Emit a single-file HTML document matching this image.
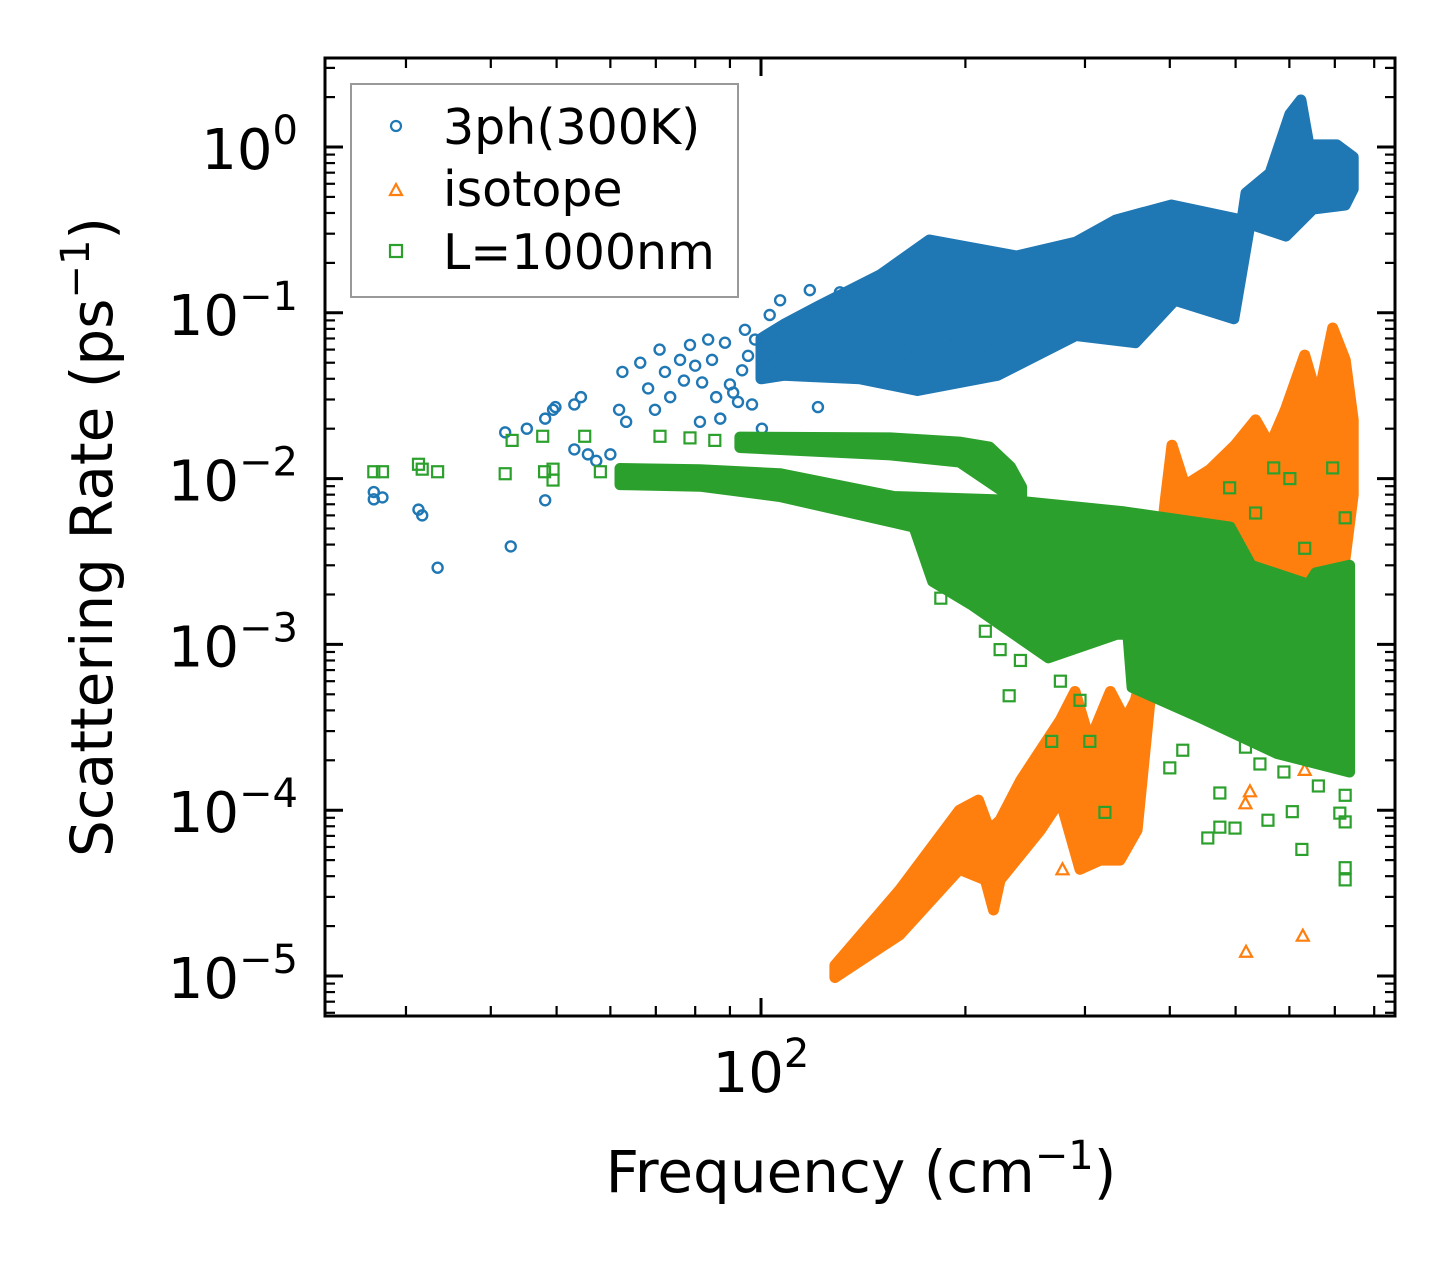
<!DOCTYPE html>
<html><head><meta charset="utf-8">
<style>
html,body{margin:0;padding:0;background:#fff;}
svg{display:block;font-family:"DejaVu Sans","Liberation Sans",sans-serif;}
</style></head>
<body>
<svg id="chart" width="1455" height="1265" viewBox="0 0 1455 1265" xmlns="http://www.w3.org/2000/svg">
  <rect x="0" y="0" width="1455" height="1265" fill="#fff"/>
  <defs><clipPath id="plotclip"><rect x="325" y="58" width="1070" height="958"/></clipPath></defs>
  <g id="marks" clip-path="url(#plotclip)"></g>
  <g id="axes"></g>
  <text x="112" y="537" font-size="58" text-anchor="middle" transform="rotate(-90 112 537)">Scattering Rate (ps<tspan baseline-shift="super" font-size="40">−1</tspan>)</text>
  <text x="861" y="1192" font-size="58" text-anchor="middle">Frequency (cm<tspan baseline-shift="super" font-size="40">−1</tspan>)</text>
  <g id="legend">
    <rect x="351" y="84" width="387" height="213" fill="#fff" fill-opacity="0.8" stroke="#999" stroke-width="2"/>
    <g>
      <circle cx="396" cy="126" r="5" fill="none" stroke="#1f77b4" stroke-width="2.2"/>
      <text x="443" y="144" font-size="49">3ph(300K)</text>
    </g>
    <g>
      <polygon points="390,195 402,195 396,184" fill="none" stroke="#ff7f0e" stroke-width="2.2"/>
      <text x="443" y="206" font-size="49">isotope</text>
    </g>
    <g>
      <rect x="390" y="245" width="12" height="12" fill="none" stroke="#2ca02c" stroke-width="2.2"/>
      <text x="443" y="269" font-size="49">L=1000nm</text>
    </g>
  </g>
</svg>
<script>
// ---- data (frequency in cm^-1, rate in ps^-1) ----
const blueBandTopF = [100,108,121.7,150,177,238,291,333,402,511,518,562,601,624,641,705,745];
const blueBandTopV = [0.07,0.085,0.11,0.17,0.275,0.22,0.267,0.363,0.447,0.363,0.528,0.697,1.58,1.92,1.03,1.03,0.87];
const blueBandBotF = [100,108,140,170,223,291,356,407,497,525,593,650,725,745];
const blueBandBotV = [0.04,0.042,0.04,0.034,0.042,0.073,0.066,0.119,0.092,0.343,0.29,0.423,0.447,0.558];
const blueF = [26.9,26.9,27.7,31.3,31.7,33.4,42.8,42,45.2,48.1,48.1,49.4,49.8,53.1,54.3,53.1,55.6,57.2,60,61.8,62.5,63.3,66.4,68.2,69.8,70.9,72.2,73.5,76,77,78.6,80,81.3,81.9,83.6,84.7,85.9,87.1,88.5,90,91,92.5,93.8,94.7,95.7,97,98,100.3,103,105,106.7,110.3,114,118,121.3,126.4,130.7,137.6,144.7,149.7,163,187,214,241,258,316,325];
const blueV = [0.0083,0.0075,0.0077,0.0065,0.006,0.0029,0.0039,0.019,0.020,0.0074,0.023,0.026,0.027,0.028,0.031,0.015,0.014,0.0128,0.014,0.026,0.044,0.022,0.050,0.035,0.026,0.060,0.044,0.031,0.052,0.039,0.064,0.048,0.022,0.038,0.069,0.052,0.031,0.023,0.066,0.037,0.033,0.029,0.045,0.079,0.055,0.028,0.069,0.020,0.097,0.052,0.119,0.079,0.069,0.137,0.027,0.079,0.133,0.045,0.079,0.039,0.058,0.069,0.064,0.126,0.123,0.137,0.147];

const orangeTopF = [128.5,160,196,209,217,225,241,258,276,290,305,327,344,356,374,394,403,421,458,499,535,562,592,632,661,695,725,745];
const orangeTopV = [1.16e-5,3.3e-5,1.0e-4,1.15e-4,7.6e-5,8.7e-5,1.5e-4,2.3e-4,3.5e-4,5.2e-4,2.6e-4,5.2e-4,3.5e-4,4.6e-4,1.07e-3,7.4e-3,0.0159,0.0091,0.0113,0.0159,0.0226,0.0159,0.026,0.0556,0.0298,0.081,0.052,0.0226];
const orangeBotF = [128.5,160,196,214,220,225,258,276,295,316,338,358,374,443,712,745];
const orangeBotV = [9.8e-6,1.77e-5,4.4e-5,3.8e-5,2.5e-5,3.8e-5,7.6e-5,1.15e-4,4.4e-5,5.0e-5,5.0e-5,7.6e-5,4.6e-4,9.3e-4,1.86e-3,0.0080];
const orangeF = [518,628,525,517,311,278,288,719,632];
const orangeV = [1.4e-5,1.75e-5,1.3e-4,1.1e-4,9e-5,4.4e-5,8.2e-5,4e-3,1.75e-4];

const greenBandTopF = [62,81.3,106.6,157,233,343,491,527,640,656,736];
const greenBandTopV = [0.0115,0.0113,0.0107,0.0078,0.0074,0.0063,0.0051,0.0030,0.0023,0.0027,0.0030];
const greenBandBotF = [62,81.3,106.6,168,179,204,265,334,347,352,445,575,736];
const greenBandBotV = [0.0092,0.0090,0.0078,0.0051,0.0024,0.00174,0.00083,0.00115,0.00115,0.00055,0.00036,0.00022,0.00017];
const greenRibbonTopF = [93.1,155,196,217,233,242];
const greenRibbonTopV = [0.0178,0.0176,0.0166,0.0155,0.0118,0.0089];
const greenRibbonBotF = [93.1,155,196,225,242];
const greenRibbonBotV = [0.0154,0.0139,0.0126,0.0086,0.0074];
const greenF = [26.9,27.7,31.3,31.7,33.4,42,43,47.7,49.4,49.4,55,48,58,63,71,78.6,85.5,268,321,400,418,474,455,474,499,558,606,626,662,712,725,725,725,725,517,543,589,645,232,569,601,695,725,535,632,490,199,214,225,184,241,276,295,305];
const greenV = [0.011,0.011,0.0122,0.0114,0.011,0.0107,0.017,0.018,0.0098,0.0114,0.018,0.011,0.011,0.011,0.018,0.0176,0.017,2.6e-4,9.7e-5,1.8e-4,2.3e-4,1.27e-4,6.8e-5,7.9e-5,7.8e-5,8.7e-5,9.8e-5,5.8e-5,1.4e-4,9.6e-5,8.5e-5,4.5e-5,3.8e-5,1.23e-4,2.4e-4,1.9e-4,1.7e-4,2.4e-4,4.9e-4,0.0116,0.010,0.0116,0.0058,0.0062,0.0038,0.0088,2.2e-3,1.2e-3,9.3e-4,1.9e-3,8e-4,6e-4,4.6e-4,2.6e-4];

const yTickExps = [0,-1,-2,-3,-4,-5];
const yTickLabels = ["0","−1","−2","−3","−4","−5"];
const xMajorTicks = [100];
const xTickLabels = ["2"];

// ---- axis functions ----
const X0 = 761, XD = 679, Y0 = 147, YD = 165.8;
function xs(f){ return X0 + XD*(Math.log10(f)-2); }
function ys(v){ return Y0 - YD*Math.log10(v); }
const NS = "http://www.w3.org/2000/svg";
const marks = document.getElementById('marks');
const axes = document.getElementById('axes');
function mk(tag, attrs, parent){ const e=document.createElementNS(NS,tag); for(const k in attrs) e.setAttribute(k,attrs[k]); parent.appendChild(e); return e; }

function band(tf,tv,bf,bv,color,name){
  const pts=[];
  for(let i=0;i<tf.length;i++) pts.push(xs(tf[i]).toFixed(1)+','+ys(tv[i]).toFixed(1));
  for(let i=bf.length-1;i>=0;i--) pts.push(xs(bf[i]).toFixed(1)+','+ys(bv[i]).toFixed(1));
  const p=mk('polygon',{points:pts.join(' '),fill:color,stroke:color,'stroke-width':11,'stroke-linejoin':'round'},marks);
  
  
}
function circles(F,V){
  for(let i=0;i<F.length;i++){
    const c=mk('circle',{cx:xs(F[i]),cy:ys(V[i]),r:5,fill:'none',stroke:'#1f77b4','stroke-width':2.4},marks);
    
    
  }
}
function tris(F,V){
  for(let i=0;i<F.length;i++){
    const x=xs(F[i]), y=ys(V[i]);
    const t=mk('polygon',{points:(x-6)+','+(y+5)+' '+(x+6)+','+(y+5)+' '+x+','+(y-6),fill:'none',stroke:'#ff7f0e','stroke-width':2.2},marks);
    
    
  }
}
function squares(F,V){
  for(let i=0;i<F.length;i++){
    const s=mk('rect',{x:xs(F[i])-5.5,y:ys(V[i])-5.5,width:11,height:11,fill:'none',stroke:'#2ca02c','stroke-width':2.2},marks);
    
    
  }
}
band(blueBandTopF,blueBandTopV,blueBandBotF,blueBandBotV,'#1f77b4','band-3ph');
circles(blueF,blueV);
band(orangeTopF,orangeTopV,orangeBotF,orangeBotV,'#ff7f0e','band-isotope');
tris(orangeF,orangeV);
band(greenBandTopF,greenBandTopV,greenBandBotF,greenBandBotV,'#2ca02c','band-boundary');
band(greenRibbonTopF,greenRibbonTopV,greenRibbonBotF,greenRibbonBotV,'#2ca02c','ribbon-boundary');
squares(greenF,greenV);

// ---- frame and ticks ----
const L=325,R=1395,T=58,B=1016;
const fr=mk('rect',{x:L,y:T,width:R-L,height:B-T,fill:'none',stroke:'#000','stroke-width':3},axes);


function tick(x1,y1,x2,y2,w){ mk('line',{x1:x1,y1:y1,x2:x2,y2:y2,stroke:'#000','stroke-width':w},axes); }
for(let e=-6;e<=1;e++){
  for(let m=1;m<=9;m++){
    const y=ys(m*Math.pow(10,e));
    if(y<T||y>B) continue;
    const len = m===1?18:10, w = m===1?3:2.2;
    tick(L,y,L+len,y,w); tick(R,y,R-len,y,w);
  }
}
yTickExps.forEach((e,i)=>{
  const y=ys(Math.pow(10,e));
  const t=mk('text',{x:298,y:y+22,'font-size':56,'text-anchor':'end'},axes);
  
  
  t.appendChild(document.createTextNode('10'));
  const s=document.createElementNS(NS,'tspan'); s.setAttribute('font-size','40'); s.setAttribute('dy','-25'); s.textContent=yTickLabels[i]; t.appendChild(s);
});
for(let e=1;e<=2;e++){
  for(let m=1;m<=9;m++){
    const f=m*Math.pow(10,e), x=xs(f);
    if(x<L||x>R) continue;
    const len = m===1?18:10, w = m===1?3:2.2;
    tick(x,B,x,B-len,w); tick(x,T,x,T+len,w);
  }
}
xMajorTicks.forEach((f,i)=>{
  const x=xs(f);
  const t=mk('text',{x:x,y:1092,'font-size':56,'text-anchor':'middle'},axes);
  
  
  t.appendChild(document.createTextNode('10'));
  const s=document.createElementNS(NS,'tspan'); s.setAttribute('font-size','40'); s.setAttribute('dy','-25'); s.textContent=xTickLabels[i]; t.appendChild(s);
});
</script>
</body></html>
